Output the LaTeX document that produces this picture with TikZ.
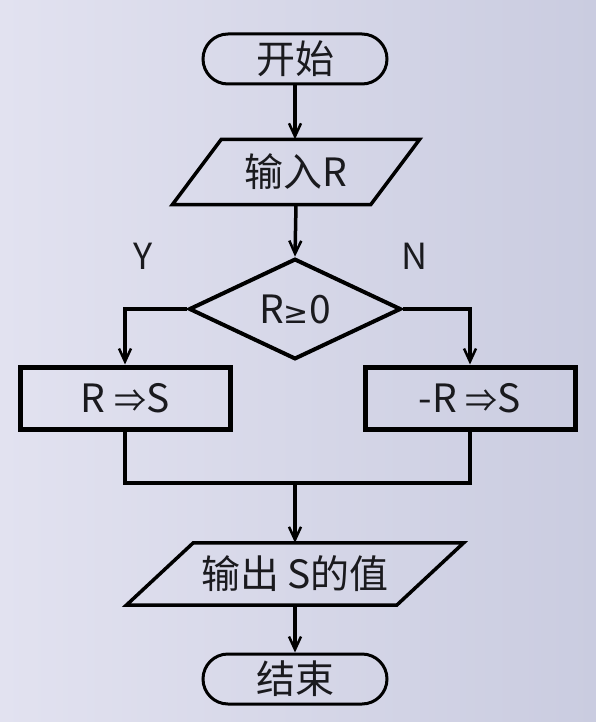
\documentclass[tikz,border=0pt]{standalone}
\usepackage{fontspec}
\setmainfont{Noto Sans CJK SC}
\newfontfamily\symfont{DejaVu Sans}
\usetikzlibrary{positioning, arrows.meta, shapes.geometric, shapes.misc}

\definecolor{bgleft}{RGB}{226,226,240}
\definecolor{bgright}{RGB}{202,204,224}
\definecolor{ink}{RGB}{26,26,30}

\begin{document}
\begin{tikzpicture}[
		x=1pt, y=-1pt,
		terminal/.style={rounded rectangle, draw, line width=3pt, inner sep=0pt, minimum width=184pt, minimum height=50pt, font=\fontsize{39}{44}\selectfont, text=ink},
		iobox/.style={rectangle, inner sep=0pt, font=\fontsize{39}{44}\selectfont, text=ink},
		ioline/.style={line width=3.5pt, line join=miter},
		decision/.style={diamond, draw, line width=4pt, inner sep=0pt, minimum width=212pt, minimum height=94pt, font=\fontsize{39}{44}\selectfont, text=ink},
		process/.style={rectangle, draw, line width=5pt, inner sep=0pt, minimum width=210pt, minimum height=62pt, font=\fontsize{39}{44}\selectfont, text=ink},
		mylabel/.style={font=\fontsize{36}{40}\selectfont, text=ink},
		line/.style={line width=3.5pt},
		arr/.style={line width=3.5pt, -{Straight Barb[length=13pt, width=12pt, line width=2.5pt]}}
	]

	\shade[left color=bgleft, right color=bgright] (0,0) rectangle (596,722);
	\useasboundingbox (0,0) rectangle (596,722);

	\node[terminal] (start) at (295,59) {开始};
	\node[iobox, minimum width=198pt, minimum height=65pt] (inp) at (296,172) {输入R};
	\node[decision] (dia) at (295,309) {R{\symfont\fontsize{30}{36}\selectfont ≥}0};
	\node[process] (yes) at (125,398) {R {\fontsize{32}{36}\selectfont ⇒}S};
	\node[process] (no) at (470,398) {-R {\fontsize{32}{36}\selectfont ⇒}S};
	\node[mylabel] (ylabel) at (143,256) {Y};
	\node[mylabel] (nlabel) at (415,256) {N};
	\coordinate (join) at (295,483);
	\node[iobox, minimum width=270pt, minimum height=62pt] (out) at (295,574) {输出 S的值};
	\node[terminal] (stop) at (295,679) {结束};

	% parallelogram outlines for the two i/o boxes
	\foreach \n/\s in {inp/24.5, out/33.5}
		\draw[ioline] ([xshift=\s pt]\n.north west) -- ([xshift=\s pt]\n.north east) -- ([xshift=-\s pt]\n.south east) -- ([xshift=-\s pt]\n.south west) -- cycle;

	\foreach \i/\j in {inp/dia, out/stop}
		\draw[arr] (\i.south) -- (\j.north);
	\draw[arr] (start.south) -- (start.south |- inp.north);

	\foreach \i/\j in {dia.west/yes.north, dia.east/no.north}
		\draw[arr] (\i) -| (\j);

	\draw[line] (yes.south) |- (join) -| (no.south);
	\draw[arr] (join) -- (out.north);

\end{tikzpicture}
\end{document}
